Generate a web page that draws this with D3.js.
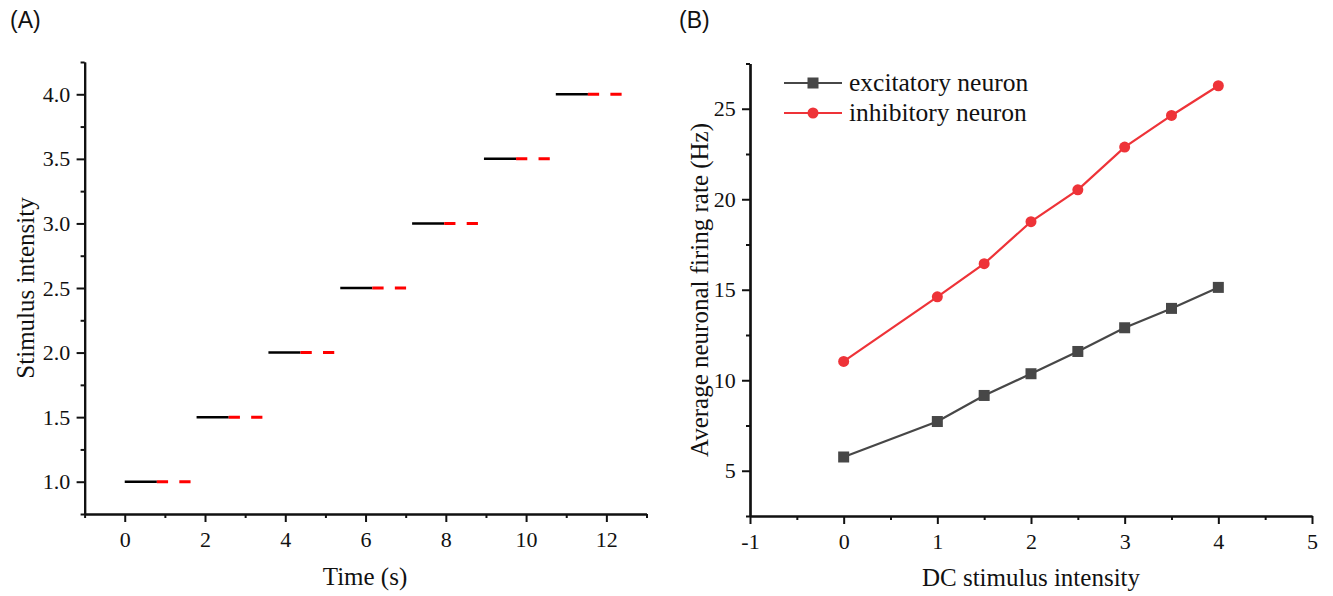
<!DOCTYPE html>
<html><head><meta charset="utf-8">
<script src="https://cdn.jsdelivr.net/npm/d3@7"></script>
<style>
body{margin:0;background:#fff;}
svg text{font-family:"Liberation Serif","Times New Roman",serif;fill:#111;}
</style></head>
<body><svg id="c" width="1333" height="596"></svg>
<script>
// Panel A data
const stimStart = [0, 1.79, 3.58, 5.37, 7.16, 8.95, 10.74];
const stimLevel = [1.0, 1.5, 2.0, 2.5, 3.0, 3.5, 4.0];
const stimDuration = 0.8;
const postDuration = 0.84;
const aXTicks = [0, 2, 4, 6, 8, 10, 12];
const aYTicks = [1.0, 1.5, 2.0, 2.5, 3.0, 3.5, 4.0];

// Panel B data
const dcIntensity = [0, 1, 1.5, 2, 2.5, 3, 3.5, 4];
const excitatory = [5.76, 7.72, 9.16, 10.36, 11.59, 12.9, 13.97, 15.13];
const inhibitory = [11.04, 14.61, 16.44, 18.76, 20.52, 22.88, 24.63, 26.27];
const bXTicks = [-1, 0, 1, 2, 3, 4, 5];
const bYTicks = [5, 10, 15, 20, 25];

const svg = d3.select("#c");

function drawAxes(g, x, y, xMajor, xMinor, yMajor, yMinor, yFmt) {
  const ax = d3.axisBottom(x).tickValues(xMajor).tickSize(8).tickSizeOuter(0).tickFormat(d => String(d));
  const axm = d3.axisBottom(x).tickValues(xMinor).tickSize(4).tickSizeOuter(0).tickFormat("");
  const ay = d3.axisLeft(y).tickValues(yMajor).tickSize(8).tickSizeOuter(0).tickFormat(yFmt);
  const aym = d3.axisLeft(y).tickValues(yMinor).tickSize(4).tickSizeOuter(0).tickFormat("");
  const y0 = y.range()[0], x0 = x.range()[0];
  [ax, axm].forEach(a => {
    const gg = g.append("g").attr("transform", `translate(0,${y0})`).call(a);
    gg.selectAll("text").attr("font-size", 22).attr("dy", "1.0em");
  });
  [ay, aym].forEach(a => {
    const gg = g.append("g").attr("transform", `translate(${x0},0)`).call(a);
    gg.selectAll("text").attr("font-size", 22).attr("dx", "-0.15em");
  });
  g.selectAll(".domain").attr("stroke", "#111").attr("stroke-width", 2.2);
  g.selectAll(".tick line").attr("stroke", "#111").attr("stroke-width", 2);
  g.selectAll(".tick text").style("font-family", '"Liberation Serif","Times New Roman",serif').attr("fill", "#111");
}

// ---------- Panel A ----------
const xA = d3.scaleLinear().domain([-1, 13]).range([84.6, 646.5]);
const yA = d3.scaleLinear().domain([0.75, 4.25]).range([514, 62]);
const gA = svg.append("g");
drawAxes(gA, xA, yA, aXTicks, d3.range(-1, 14, 2), aYTicks, d3.range(0.75, 4.26, 0.5), d3.format(".1f"));

stimStart.forEach((s, i) => {
  const lv = stimLevel[i];
  gA.append("line").attr("x1", xA(s)).attr("x2", xA(s + stimDuration))
    .attr("y1", yA(lv)).attr("y2", yA(lv)).attr("stroke", "#000").attr("stroke-width", 2.5);
  const xs = xA(s + stimDuration), xe = xA(s + stimDuration + postDuration);
  const seg = (xe - xs) / 3;
  gA.append("line").attr("x1", xs).attr("x2", xe)
    .attr("y1", yA(lv)).attr("y2", yA(lv)).attr("stroke", "#f00").attr("stroke-width", 3)
    .attr("stroke-dasharray", `${seg},${seg}`);
});

gA.append("text").attr("x", 365).attr("y", 585).attr("text-anchor", "middle").attr("font-size", 25).text("Time (s)");
gA.append("text").attr("transform", "translate(34,288) rotate(-90)").attr("text-anchor", "middle").attr("font-size", 25).text("Stimulus intensity");
svg.append("text").attr("x", 10).attr("y", 28).attr("font-size", 23)
  .style("font-family", '"Liberation Sans",Arial,sans-serif').text("(A)");

// ---------- Panel B ----------
const xB = d3.scaleLinear().domain([-1, 5]).range([750, 1312]);
const yB = d3.scaleLinear().domain([2.5, 27.5]).range([516, 63.5]);
const gB = svg.append("g");
drawAxes(gB, xB, yB, bXTicks, d3.range(-0.5, 5, 1), bYTicks, d3.range(2.5, 27.6, 5), d3.format("d"));

const excColor = "#474747", inhColor = "#ee3338";
const line = d3.line().x((d, i) => xB(dcIntensity[i])).y(d => yB(d));
gB.append("path").datum(excitatory).attr("d", line).attr("fill", "none").attr("stroke", excColor).attr("stroke-width", 2.2);
gB.append("path").datum(inhibitory).attr("d", line).attr("fill", "none").attr("stroke", inhColor).attr("stroke-width", 2.2);
gB.selectAll(".sq").data(excitatory).enter().append("rect")
  .attr("x", (d, i) => xB(dcIntensity[i]) - 5.5).attr("y", d => yB(d) - 5.5)
  .attr("width", 11).attr("height", 11).attr("fill", excColor);
gB.selectAll(".ci").data(inhibitory).enter().append("circle")
  .attr("cx", (d, i) => xB(dcIntensity[i])).attr("cy", d => yB(d)).attr("r", 5.5).attr("fill", inhColor);

// legend
const legend = [{name: "excitatory neuron", c: excColor, m: "sq"}, {name: "inhibitory neuron", c: inhColor, m: "ci"}];
legend.forEach((l, i) => {
  const ly = 83 + i * 30;
  gB.append("line").attr("x1", 784).attr("x2", 842).attr("y1", ly).attr("y2", ly).attr("stroke", l.c).attr("stroke-width", 2.2);
  if (l.m === "sq") gB.append("rect").attr("x", 813 - 5.5).attr("y", ly - 5.5).attr("width", 11).attr("height", 11).attr("fill", l.c);
  else gB.append("circle").attr("cx", 813).attr("cy", ly).attr("r", 5.5).attr("fill", l.c);
  gB.append("text").attr("x", 849).attr("y", ly + 8).attr("font-size", 25.5).text(l.name);
});

gB.append("text").attr("x", 1031).attr("y", 586).attr("text-anchor", "middle").attr("font-size", 25).text("DC stimulus intensity");
gB.append("text").attr("transform", "translate(708,290) rotate(-90)").attr("text-anchor", "middle").attr("font-size", 25).text("Average neuronal firing rate (Hz)");
svg.append("text").attr("x", 679).attr("y", 28).attr("font-size", 23)
  .style("font-family", '"Liberation Sans",Arial,sans-serif').text("(B)");
</script></body></html>
